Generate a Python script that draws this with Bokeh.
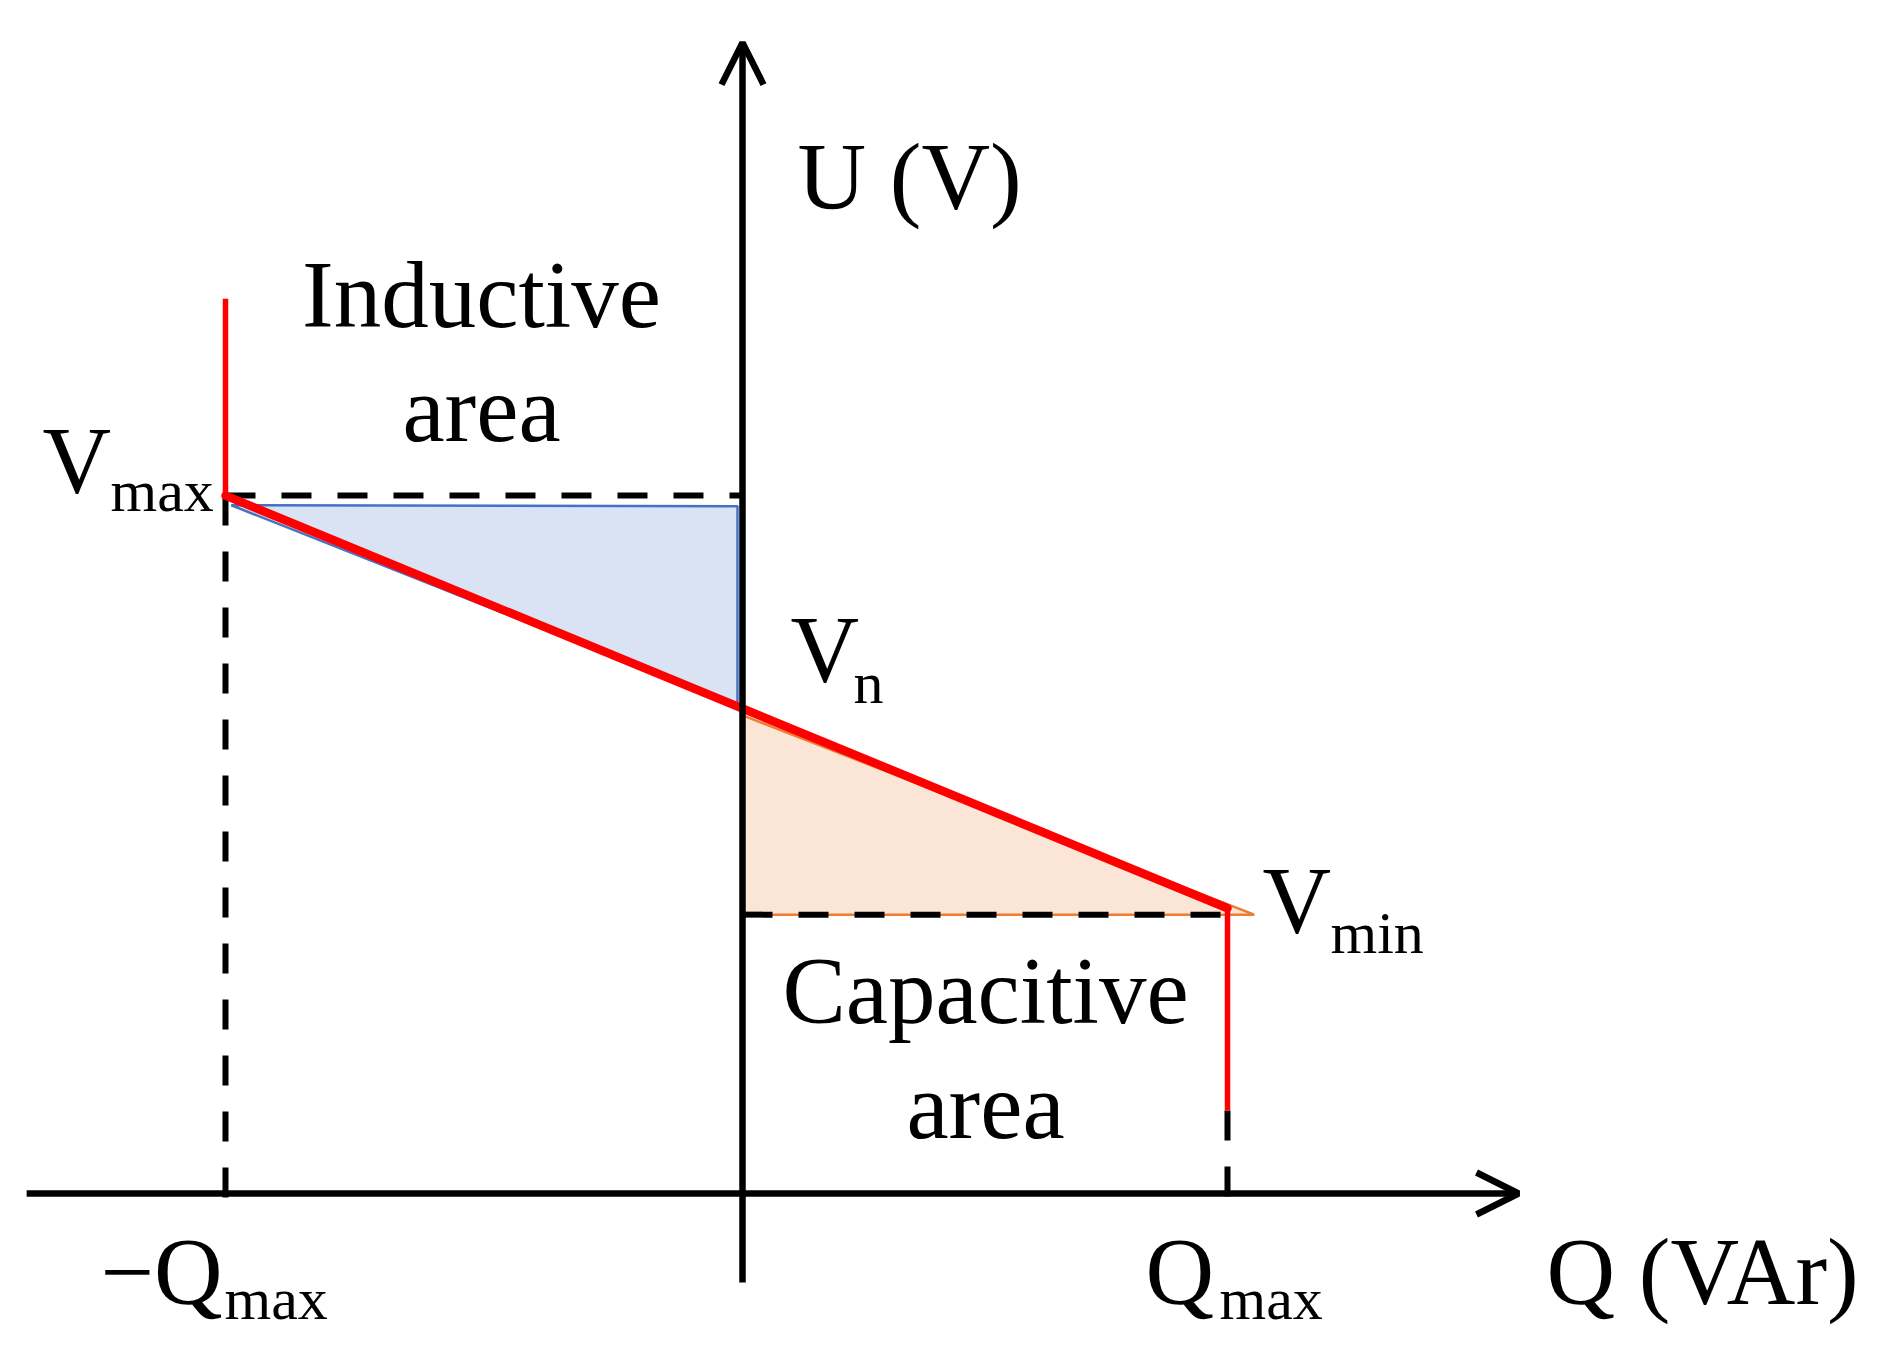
from bokeh.plotting import figure
from bokeh.models import Range1d, Arrow, OpenHead, Label
from bokeh.embed import file_html
from bokeh.resources import INLINE

# ---------------- data (schematic units, Qmax = 1) ----------------
Q_NEG = -1.066          # -Qmax position
Q_POS = 1.0             # Qmax position
V_MAX = 1.439           # Vmax level
V_N = 1.0               # Vn level
V_MIN = 0.575           # Vmin level
U_TOP = 1.845           # top of the red limit at -Qmax
U_LOW = 0.171           # bottom of the red limit at Qmax

# red droop characteristic: straight line through (-Qmax, Vmax) and (0, Vn)
slope = (V_N - V_MAX) / (0.0 - Q_NEG)
U_END = V_N + slope * Q_POS
droop_q = [Q_NEG, Q_NEG, Q_POS, Q_POS]
droop_u = [U_TOP, V_MAX, U_END, U_LOW]

axis_x = [-1.476, 1.60]      # Q axis extent
axis_y = [-0.1835, 2.373]    # U axis extent
dash_below = -0.045          # dashed guides pass just below the Q axis

# ---------------- layout helpers (reference pixel -> data) ----------------
PX = 485.0
OX, OY = 742.0, 1193.0
def fx(X):
    return (X - OX) / PX
def fy(Y):
    return (OY - Y) / PX

W, H = 1870, 1342
p = figure(width=W, height=H,
           x_range=Range1d(fx(0), fx(W)),
           y_range=Range1d(fy(H), fy(0)),
           output_backend="svg", toolbar_location=None,
           x_axis_location=None, y_axis_location=None,
           min_border=0, background_fill_color="white",
           border_fill_color="white")
p.grid.visible = False
p.outline_line_color = None

# shaded areas
p.patch([Q_NEG + 0.012, -0.0103, -0.0103],
        [V_MAX - 0.02, V_MAX - 0.022, V_N + 0.006],
        fill_color="#dae3f3", line_color="#4472c4", line_width=2.5)
p.patch([0.0, 0.0, Q_POS + 0.055],
        [V_N - 0.014, V_MIN, V_MIN],
        fill_color="#fbe5d6", line_color="#ed7d31", line_width=2.5)

# dashed guide lines
dash = dict(line_color="black", line_width=6, line_dash="30 26")
p.line([Q_NEG, 0.0], [V_MAX, V_MAX], **dash)
p.line([0.0, Q_POS], [V_MIN, V_MIN], **dash)
p.line([Q_NEG, Q_NEG], [V_MAX, dash_below], **dash)
p.line([Q_POS, Q_POS], [U_LOW, dash_below], **dash)

# red characteristic
p.line(droop_q[0:2], droop_u[0:2], line_color="#ff0000", line_width=5.5)
p.line(droop_q[2:4], droop_u[2:4], line_color="#ff0000", line_width=5.5)
p.line(droop_q[1:3], droop_u[1:3], line_color="#ff0000", line_width=8.5,
       line_cap="round")

# axes with arrows
p.add_layout(Arrow(end=OpenHead(size=42, line_width=6.5, line_color="black"),
                   x_start=0.0, y_start=axis_y[0], x_end=0.0, y_end=axis_y[1],
                   line_width=6.5, line_color="black"))
p.add_layout(Arrow(end=OpenHead(size=42, line_width=6.5, line_color="black"),
                   x_start=axis_x[0], y_start=0.0, x_end=axis_x[1], y_end=0.0,
                   line_width=6.5, line_color="black"))

FONT = "Liberation Serif"
BIG = 95
SUB = 60

def lab(text, X, Y, size=BIG, align="left"):
    # empirical correction: rendered baseline sits ~0.33 em below the anchor
    Yc = Y - 0.33 * size
    p.add_layout(Label(x=fx(X), y=fy(Yc), text=text, text_font=FONT,
                       text_font_size=f"{size}px", text_color="black",
                       text_align=align, text_baseline="alphabetic"))

lab("U (V)", 797, 208)
lab("Inductive", 481, 326, align="center")
lab("area", 481, 440, align="center")
lab("Capacitive", 985, 1022, align="center")
lab("area", 985, 1137, align="center")

lab("V", 42, 492)
lab("max", 110, 510, SUB)
lab("V", 790, 681)
lab("n", 853, 702, SUB)
lab("V", 1262, 932)
lab("min", 1330, 952, SUB)

lab("\u2212Q", 100, 1303)
lab("max", 224, 1318, SUB)
lab("Q", 1145, 1303)
lab("max", 1219, 1318, SUB)
lab("Q (VAr)", 1546, 1303)

open("out.html", "w").write(file_html(p, INLINE))
